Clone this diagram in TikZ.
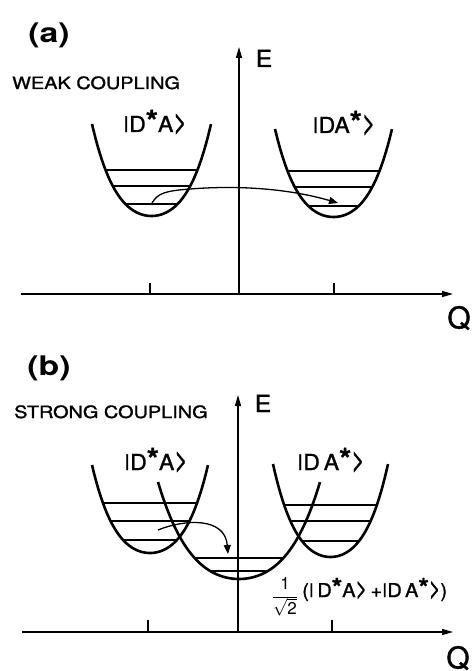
\documentclass[tikz,border=0pt]{standalone}
\usepackage{fontspec}
\usepackage{graphicx}
\usetikzlibrary{arrows.meta}
\setsansfont{TeX Gyre Heros}
\newfontfamily\medfont[FakeBold=1.2]{TeX Gyre Heros}
\newcommand\wide[2]{\scalebox{#1}[1]{#2}}
\newcommand\kb{\raisebox{0.16em}{\scalebox{1}[0.76]{|}}}
\newcommand\ka{\scalebox{1}[1.45]{>}}
\newcommand\kst{\raisebox{0.02em}{\scalebox{1.35}{\bfseries *}}}
\newcommand\Well[5]{%
  \draw[well] plot[domain=-1:1,samples=51,smooth] ({#1+#3*\x},{#2-#4*(0.6*\x*\x+0.4*\x*\x*\x*\x)});
  \begin{scope}
    \clip plot[domain=-1:1,samples=51,smooth] ({#1+#3*\x},{#2-#4*(0.6*\x*\x+0.4*\x*\x*\x*\x)}) -- cycle;
    \foreach \lv in {#5} \draw[level] (#1-#3,\lv) -- (#1+#3,\lv);
  \end{scope}}
\begin{document}
\begin{tikzpicture}[x=1pt,y=-1pt,
  well/.style={line width=2.6pt},
  level/.style={line width=1.3pt},
  axis/.style={line width=1.4pt,-{Triangle[length=11pt,width=6pt]}},
  tick/.style={line width=1.2pt},
  trans/.style={line width=1.3pt,-{Triangle[length=9pt,width=7pt]}},
  panel/.style={inner sep=0pt,font=\sffamily\bfseries\fontsize{27}{30}\selectfont},
  cpl/.style={inner sep=0pt,anchor=base west,font=\medfont\fontsize{17}{20}\selectfont},
  ket/.style={inner sep=0pt,anchor=base,font=\medfont\fontsize{22}{24}\selectfont},
  axl/.style={inner sep=0pt,anchor=base,font=\medfont\fontsize{23.5}{26}\selectfont},
  ql/.style={inner sep=0pt,font=\medfont\fontsize{30}{32}\selectfont}]
\useasboundingbox (0,0) rectangle (472,671);
% ---------- panel (a) ----------
\node[panel] (pa) at (49,35) {\wide{1.25}{(a)}};
\node[cpl] (wk) at (12,89) {\wide{1.17}{WEAK COUPLING}};
\coordinate (oa) at (239,294);
\coordinate (ea) at (239,47);
\coordinate (qa0) at (21,294);
\coordinate (qa) at (453,294);
\draw[axis] (oa) -- (ea);
\draw[axis] (qa0) -- (qa);
\node[axl] (Ea) at (264,67) {\wide{1.05}{E}};
\node[ql] (Qa) at (459,318) {Q};
\draw[tick] (150,283) -- (150,294);
\draw[tick] (334,283) -- (334,294);
\Well{151.5}{216}{59.5}{92}{170,186,204}
\Well{333.5}{217}{58.5}{88}{171,187,206}
\node[ket] (ka1) at (155,132) {\wide{1.05}{\kb D\kst A\ka}};
\node[ket] (ka2) at (344,133) {\wide{1.05}{\kb DA\kst\ka}};
\coordinate (a1) at (152,203);
\coordinate (a2) at (338,203);
\draw[trans] (a1) .. controls (158,193) and (165,191) .. (190,189)
  .. controls (240,185) and (290,189) .. (a2);
% ---------- panel (b) ----------
\node[panel] (pb) at (49,368) {\wide{1.25}{(b)}};
\node[cpl] (st) at (14,418) {\wide{1.17}{STRONG COUPLING}};
\coordinate (ob) at (238,632);
\coordinate (eb) at (238,395);
\coordinate (qb0) at (22,632);
\coordinate (qb) at (453,632);
\draw[axis] (ob) -- (eb);
\draw[axis] (qb0) -- (qb);
\node[axl] (Eb) at (263,412) {\wide{1.05}{E}};
\node[ql] (Qb) at (458,658) {Q};
\draw[tick] (148,620) -- (148,632);
\draw[tick] (332,620) -- (332,632);
\Well{150}{553}{58}{88}{503,521,540}
\Well{330.5}{557}{57.5}{93}{505,521,541}
\Well{239}{579}{81}{97}{558,571}
\node[ket] (kb1) at (156,470) {\wide{1.05}{\kb D\kst A\ka}};
\node[ket] (kb2) at (331,470) {\wide{1.05}{\kb D\,A\kst\ka}};
\coordinate (b1) at (158,530);
\coordinate (b2) at (228,554);
\draw[trans] (b1) .. controls (185,519) and (225,517) .. (b2);
\node[inner sep=0pt,font=\fontsize{17}{20}\selectfont] (fr) at (285,597)
  {$\displaystyle\frac{\textsf{1}}{\sqrt{\textsf{2}}}$};
\node[ket,anchor=base west,font=\medfont\fontsize{19}{21}\selectfont] (sup) at (302,597)
  {\wide{1.05}{(\kb\,D\kst A\ka\,+\kb D\,A\kst\ka)}};
\end{tikzpicture}
\end{document}
